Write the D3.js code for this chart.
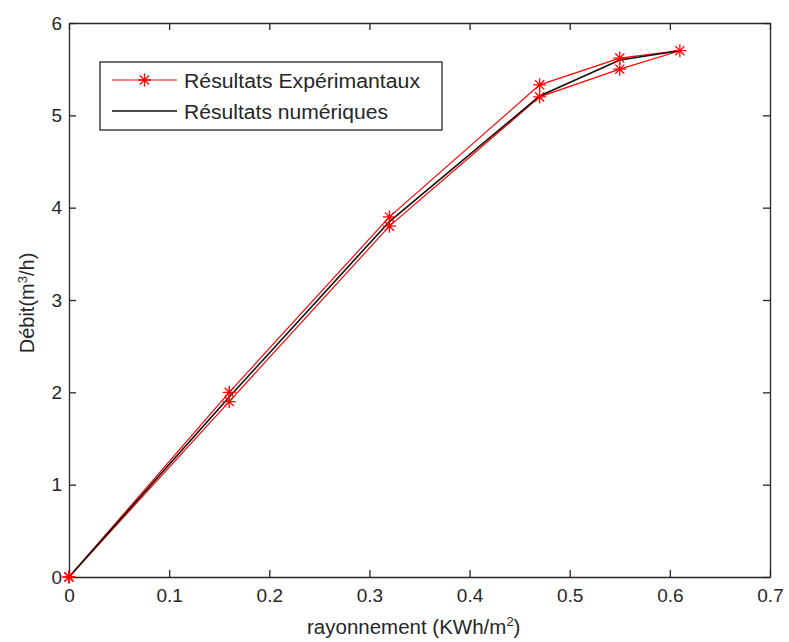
<!DOCTYPE html>
<html><head><meta charset="utf-8">
<script src="https://cdn.jsdelivr.net/npm/d3@7"></script>
<style>body{margin:0;background:#fff;} text{font-family:"Liberation Sans",Arial,sans-serif;fill:#262626;}</style>
</head><body>
<svg id="c" width="789" height="642"></svg>
<script>
const expX = [0, 0.16, 0.32, 0.47, 0.55, 0.61, 0.55, 0.47, 0.32, 0.16, 0];
const expY = [0, 2.0, 3.9, 5.33, 5.62, 5.7, 5.5, 5.2, 3.8, 1.9, 0];
const numX = [0, 0.16, 0.32, 0.47, 0.55, 0.61];
const numY = [0, 1.95, 3.85, 5.21, 5.6, 5.7];
const xTicks = [0, 0.1, 0.2, 0.3, 0.4, 0.5, 0.6, 0.7];
const yTicks = [0, 1, 2, 3, 4, 5, 6];
const legendLabels = ["Résultats Expérimantaux", "Résultats numériques"];

const svg = d3.select("#c");
const L = 69, R = 770, T = 23, B = 577;
const x = d3.scaleLinear().domain([0, 0.7]).range([L, R]);
const y = d3.scaleLinear().domain([0, 6]).range([B, T]);
const fs = 19;

// axes
const gx = svg.append("g").attr("transform", `translate(0,${B})`)
  .call(d3.axisBottom(x).tickValues(xTicks).tickSizeInner(-7).tickSizeOuter(0).tickPadding(12).tickFormat(d => d));
const gxt = svg.append("g").attr("transform", `translate(0,${T})`)
  .call(d3.axisTop(x).tickValues(xTicks).tickSizeInner(-7).tickSizeOuter(0).tickFormat(""));
const gy = svg.append("g").attr("transform", `translate(${L},0)`)
  .call(d3.axisLeft(y).tickValues(yTicks).tickSizeInner(-7).tickSizeOuter(0).tickPadding(7).tickFormat(d => d));
const gyr = svg.append("g").attr("transform", `translate(${R},0)`)
  .call(d3.axisRight(y).tickValues(yTicks).tickSizeInner(-7).tickSizeOuter(0).tickFormat(""));
[gx, gxt, gy, gyr].forEach(g => {
  g.selectAll("path.domain").attr("stroke", "#262626").attr("stroke-width", 1.3);
  g.selectAll("line").attr("stroke", "#262626").attr("stroke-width", 1.3);
  g.selectAll("text").style("font-size", fs + "px").style("font-family", "Liberation Sans, Arial, sans-serif").attr("fill", "#262626");
});

// lines
const line = d3.line().x(d => x(d[0])).y(d => y(d[1]));
const expData = expX.map((v, i) => [v, expY[i]]);
const numData = numX.map((v, i) => [v, numY[i]]);
svg.append("path").datum(expData).attr("d", line).attr("fill", "none").attr("stroke", "#ff0000").attr("stroke-width", 1.2);
svg.append("path").datum(numData).attr("d", line).attr("fill", "none").attr("stroke", "#111").attr("stroke-width", 1.6);

function star(g, cx, cy, r) {
  const p = `M${cx - r},${cy}L${cx + r},${cy}M${cx},${cy - r}L${cx},${cy + r}` +
    `M${cx - r * 0.7},${cy - r * 0.7}L${cx + r * 0.7},${cy + r * 0.7}M${cx - r * 0.7},${cy + r * 0.7}L${cx + r * 0.7},${cy - r * 0.7}`;
  g.append("path").attr("d", p).attr("stroke", "#ff0000").attr("stroke-width", 1.3).attr("fill", "none");
}
const mg = svg.append("g");
expData.forEach(d => star(mg, x(d[0]), y(d[1]), 6.5));

// labels
svg.append("text").attr("x", 307).attr("y", 634).attr("text-anchor", "start").style("font-size", "20.5px")
  .html('rayonnement (KWh/m<tspan dy="-8" style="font-size:13px">2</tspan><tspan dy="8">)</tspan>');
svg.append("text").attr("transform", `translate(34,${(T + B) / 2 + 3}) rotate(-90)`).attr("text-anchor", "middle").style("font-size", "20px")
  .html('Débit(m<tspan dy="-7" style="font-size:13px">3</tspan><tspan dy="7">/h)</tspan>');

// legend
const lg = svg.append("g");
lg.append("rect").attr("x", 100).attr("y", 62).attr("width", 342).attr("height", 68).attr("fill", "#fff").attr("stroke", "#262626").attr("stroke-width", 1.3);
lg.append("line").attr("x1", 112).attr("x2", 177).attr("y1", 80).attr("y2", 80).attr("stroke", "#ff0000").attr("stroke-width", 1.2);
star(lg, 144.5, 80, 6.5);
lg.append("line").attr("x1", 112).attr("x2", 177).attr("y1", 111).attr("y2", 111).attr("stroke", "#111").attr("stroke-width", 1.6);
const legendWidths = [236, 204];
lg.selectAll("text.lt").data(legendLabels).enter().append("text").attr("class", "lt")
  .attr("x", 184).attr("y", (d, i) => 88 + i * 31).style("font-size", "20px")
  .attr("textLength", (d, i) => legendWidths[i]).attr("lengthAdjust", "spacingAndGlyphs").text(d => d);
</script>
</body></html>
